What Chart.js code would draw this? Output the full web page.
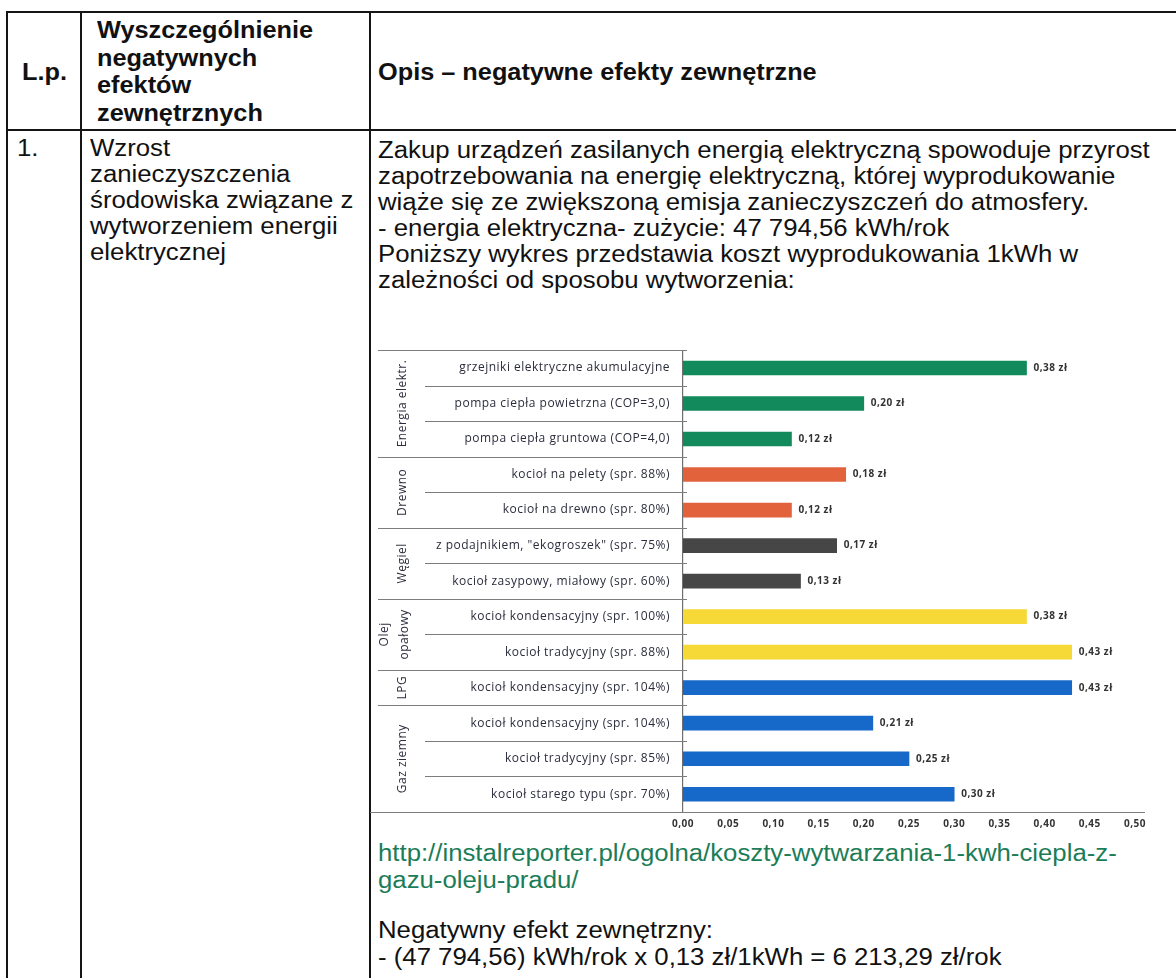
<!DOCTYPE html>
<html lang="pl">
<head>
<meta charset="utf-8">
<script src="https://cdn.jsdelivr.net/npm/chart.js@4.4.1/dist/chart.umd.min.js"></script>
<style>
    body { margin: 0; background: #fff; width: 1176px; height: 978px; overflow: hidden; position: relative; }
    .ln { position: absolute; background: #151515; }
    .t { position: absolute; font-family: 'Liberation Sans', Arial, sans-serif; font-size: 23px; line-height: 26px;
         color: #111; white-space: nowrap; transform: scaleX(1.12); transform-origin: left center; }
    .b { font-weight: bold; transform: scaleX(1.1); }
    .link { color: #1b7d57; }
    #chartBox { position: absolute; left: 370px; top: 330px; width: 800px; height: 505px; }
</style>
</head>
<body>
<!-- linie tabeli -->
<div class="ln" style="left:6px; top:11px; width:1170px; height:2px"></div>
<div class="ln" style="left:6px; top:129px; width:1170px; height:2px"></div>
<div class="ln" style="left:6px; top:11px; width:2px; height:967px"></div>
<div class="ln" style="left:80px; top:11px; width:2px; height:967px"></div>
<div class="ln" style="left:369px; top:11px; width:2px; height:967px"></div>

<!-- nagłówek -->
<div class="t b" style="left:22px; top:59px">L.p.</div>
<div class="t b" style="left:97px; top:17px">Wyszczególnienie</div>
<div class="t b" style="left:97px; top:45px">negatywnych</div>
<div class="t b" style="left:97px; top:72px">efektów</div>
<div class="t b" style="left:97px; top:100px">zewnętrznych</div>
<div class="t b" style="left:378px; top:59px">Opis – negatywne efekty zewnętrzne</div>

<!-- wiersz 1 -->
<div class="t" style="left:17px; top:135px">1.</div>
<div class="t" style="left:90px; top:135px">Wzrost</div>
<div class="t" style="left:90px; top:161px">zanieczyszczenia</div>
<div class="t" style="left:90px; top:187px">środowiska związane z</div>
<div class="t" style="left:90px; top:213px">wytworzeniem energii</div>
<div class="t" style="left:90px; top:239px">elektrycznej</div>

<div class="t" style="left:378px; top:137px">Zakup urządzeń zasilanych energią elektryczną spowoduje przyrost</div>
<div class="t" style="left:378px; top:163px">zapotrzebowania na energię elektryczną, której wyprodukowanie</div>
<div class="t" style="left:378px; top:189px">wiąże się ze zwiększoną emisja zanieczyszczeń do atmosfery.</div>
<div class="t" style="left:378px; top:215px">- energia elektryczna- zużycie: 47 794,56 kWh/rok</div>
<div class="t" style="left:378px; top:241px">Poniższy wykres przedstawia koszt wyprodukowania 1kWh w</div>
<div class="t" style="left:378px; top:267px">zależności od sposobu wytworzenia:</div>

<div id="chartBox"><canvas id="costChart"></canvas></div>

<div class="t link" style="left:378px; top:840px">http://instalreporter.pl/ogolna/koszty-wytwarzania-1-kwh-ciepla-z-</div>
<div class="t link" style="left:378px; top:867px">gazu-oleju-pradu/</div>
<div class="t" style="left:378px; top:917px">Negatywny efekt zewnętrzny:</div>
<div class="t" style="left:378px; top:944px">- (47 794,56) kWh/rok x 0,13 zł/1kWh = 6 213,29 zł/rok</div>

<script>
// kategorie (od góry)
const categories = [
    'grzejniki elektryczne akumulacyjne',
    'pompa ciepła powietrzna (COP=3,0)',
    'pompa ciepła gruntowa (COP=4,0)',
    'kocioł na pelety (spr. 88%)',
    'kocioł na drewno (spr. 80%)',
    'z podajnikiem, "ekogroszek" (spr. 75%)',
    'kocioł zasypowy, miałowy (spr. 60%)',
    'kocioł kondensacyjny (spr. 100%)',
    'kocioł tradycyjny (spr. 88%)',
    'kocioł kondensacyjny (spr. 104%)',
    'kocioł kondensacyjny (spr. 104%)',
    'kocioł tradycyjny (spr. 85%)',
    'kocioł starego typu (spr. 70%)'
];

// koszt 1 kWh [zł]
const costValues = [0.38, 0.20, 0.12, 0.18, 0.12, 0.17, 0.13, 0.38, 0.43, 0.43, 0.21, 0.25, 0.30];

// grupy paliw
const groupNames = [['Energia elektr.'], ['Drewno'], ['Węgiel'], ['Olej', 'opałowy'], ['LPG'], ['Gaz ziemny']];
const groupSizes = [3, 2, 2, 2, 1, 3];

// oś X
const xMin = 0;
const xMax = 0.5;
const xStep = 0.05;

// kolory grup
const groupColors = ['#128a5c', '#e2623c', '#464646', '#f6d836', '#1769c9', '#1769c9'];

const barColors = [];
groupSizes.forEach((n, g) => { for (let i = 0; i < n; i++) barColors.push(groupColors[g]); });

const fmt = v => v.toFixed(2).replace('.', ',');

// separatory, etykiety grup i wartości
const decorPlugin = {
    id: 'decor',
    beforeDraw(chart) {
        // zeskanowany Calibri wygląda na rozstrzelony
        chart.ctx.letterSpacing = '0.5px';
    },
    afterDraw(chart) {
        const { ctx, chartArea } = chart;
        const y = chart.scales.y;
        const step = y.getPixelForValue(1) - y.getPixelForValue(0);
        const edge = i => y.getPixelForValue(i) - step / 2;

        const groupStarts = [0];
        groupSizes.forEach(n => groupStarts.push(groupStarts[groupStarts.length - 1] + n));

        ctx.save();
        ctx.strokeStyle = '#7d7d7d';
        ctx.lineWidth = 1.2;
        for (let i = 0; i <= categories.length; i++) {
            const py = Math.round(edge(i)) + 0.5;
            const isGroup = groupStarts.includes(i);
            let x0 = isGroup ? 8 : 55;
            let x1 = chartArea.left + 4;
            if (i === categories.length) { x0 = 0; x1 = chartArea.right + 10; }
            ctx.beginPath();
            ctx.moveTo(x0, py);
            ctx.lineTo(x1, py);
            ctx.stroke();
        }

        // nazwy grup (pionowo)
        ctx.fillStyle = '#2b2d3c';
        ctx.font = '12px "Open Sans"';
        ctx.textAlign = 'center';
        ctx.textBaseline = 'middle';
        groupNames.forEach((lines, g) => {
            const cy = (edge(groupStarts[g]) + edge(groupStarts[g + 1])) / 2;
            lines.forEach((txt, k) => {
                const cx = lines.length === 1 ? 33 : 15 + k * 20;
                ctx.save();
                ctx.translate(cx, cy);
                ctx.rotate(-Math.PI / 2);
                ctx.fillText(txt, 0, 0);
                ctx.restore();
            });
        });

        // wartości przy słupkach
        ctx.font = 'bold 10px "Open Sans"';
        ctx.textAlign = 'left';
        ctx.fillStyle = '#333';
        chart.getDatasetMeta(0).data.forEach((bar, i) => {
            ctx.fillText(fmt(costValues[i]) + ' zł', bar.x + 7, bar.y);
        });
        ctx.restore();
    }
};

new Chart(document.getElementById('costChart'), {
    type: 'bar',
    data: {
        labels: categories,
        datasets: [{
            data: costValues,
            backgroundColor: barColors,
            barThickness: 14
        }]
    },
    options: {
        indexAxis: 'y',
        responsive: true,
        maintainAspectRatio: false,
        animation: false,
        layout: { padding: { top: 12, right: 35, bottom: 0, left: 0 } },
        plugins: {
            legend: { display: false },
            tooltip: { enabled: false }
        },
        scales: {
            x: {
                min: xMin,
                max: xMax,
                grid: { display: false, drawTicks: false },
                border: { display: false },
                ticks: {
                    stepSize: xStep,
                    padding: 6,
                    color: '#333',
                    font: { family: 'Open Sans', size: 10, weight: 'bold' },
                    callback: v => fmt(v)
                },
                afterFit: s => { s.height = 23; }
            },
            y: {
                grid: { display: false, drawTicks: false },
                border: { display: true, color: '#6f6f6f', width: 1.2 },
                ticks: {
                    padding: 13,
                    color: '#2b2d3c',
                    font: { family: 'Open Sans', size: 12 }
                },
                afterFit: s => { s.width = 313; }
            }
        }
    },
    plugins: [decorPlugin]
});
</script>
</body>
</html>
